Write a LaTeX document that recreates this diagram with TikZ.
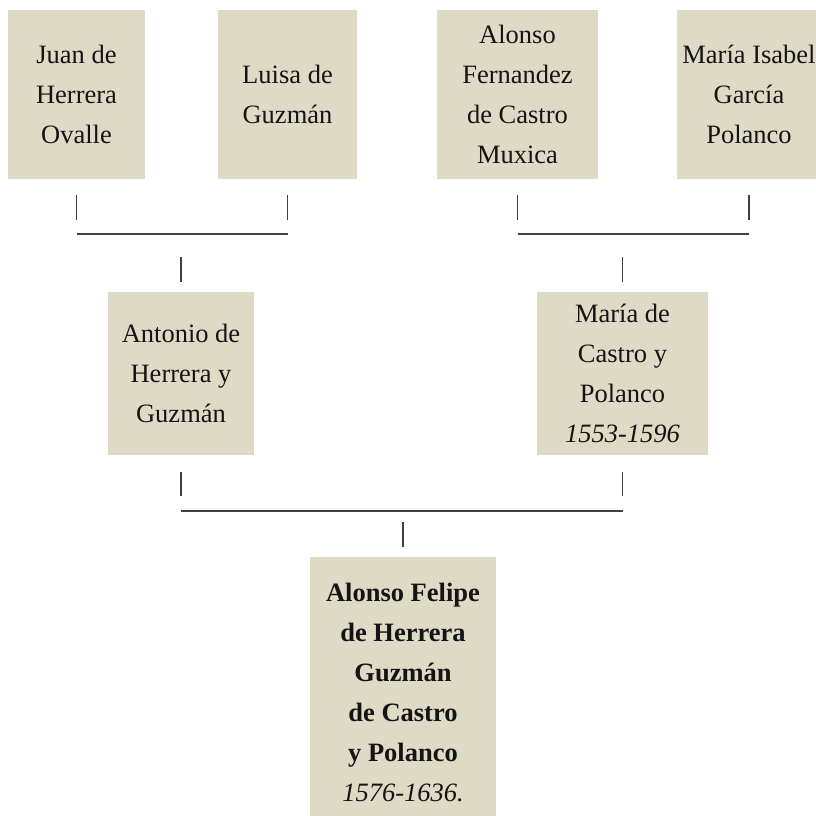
\documentclass[tikz,border=0pt]{standalone}
\usepackage{fontspec}
\setmainfont{Liberation Serif}
\usepackage{xcolor}
\usetikzlibrary{positioning}

\definecolor{boxbg}{RGB}{222,218,197}
\definecolor{linegray}{RGB}{64,64,64}

\tikzset{
  person/.style={fill=boxbg, align=center, inner sep=0pt, text=black!92,
    font=\fontsize{26.5}{40}\selectfont},
  tick/.style={draw=linegray, line width=1.3pt},
}

\begin{document}
\begin{tikzpicture}[x=1pt,y=-1pt]
        \useasboundingbox (0,0) rectangle (815,816);
        % grandparents
        \node[person, minimum width=137, minimum height=169] (juan) at (76.5,94.5) {Juan de\\Herrera\\Ovalle};
        \node[person, minimum width=139, minimum height=169] (luisa) at (287.5,94.5) {Luisa de\\Guzmán};
        \node[person, minimum width=161, minimum height=169] (alonso) at (517.5,94.5) {Alonso\\Fernandez\\de Castro\\Muxica};
        \node[person, minimum width=144, minimum height=169] (isabel) at (749,94.5) {María Isabel\\García\\Polanco};
        % parents
        \node[person, minimum width=146, minimum height=163] (antonio) at (181,373.5) {Antonio de\\Herrera y\\Guzmán};
        \node[person, minimum width=171, minimum height=163] (maria) at (622.5,373.5) {María de\\Castro y\\Polanco\\\textit{1553-1596}};
        % alonso felipe
        \node[person, minimum width=186, minimum height=270] (felipe) at (403,692) {\textbf{Alonso Felipe}\\\textbf{de Herrera}\\\textbf{Guzmán}\\\textbf{de Castro}\\\textbf{y Polanco}\\\textit{1576-1636.}};

        \coordinate (ta) at (0,195);
        \coordinate (tb) at (0,220);
        \coordinate (tbar) at (0,234);
        \coordinate (tc) at (0,257);
        \coordinate (td) at (0,282);
        \coordinate (ma) at (0,472);
        \coordinate (mb) at (0,496);
        \coordinate (mbar) at (0,511);
        \coordinate (mc) at (0,522);
        \coordinate (md) at (0,547);

        \draw[tick] (juan.south |- ta) -- (juan.south |- tb);
        \draw[tick] (luisa.south |- ta) -- (luisa.south |- tb);
        \draw[tick] (juan.south |- tbar) -- (luisa.south |- tbar);
        \draw[tick] (antonio.north |- tc) -- (antonio.north |- td);
        \draw[tick] (alonso.south |- ta) -- (alonso.south |- tb);
        \draw[tick] (isabel.south |- ta) -- (isabel.south |- tb);
        \draw[tick] (alonso.south |- tbar) -- (isabel.south |- tbar);
        \draw[tick] (maria.north |- tc) -- (maria.north |- td);

        \draw[tick] (antonio.south |- ma) -- (antonio.south |- mb);
        \draw[tick] (maria.south |- ma) -- (maria.south |- mb);
        \draw[tick] (antonio.south |- mbar) -- (maria.south |- mbar);
        \draw[tick] (felipe.north |- mc) -- (felipe.north |- md);
      \end{tikzpicture}
\end{document}
